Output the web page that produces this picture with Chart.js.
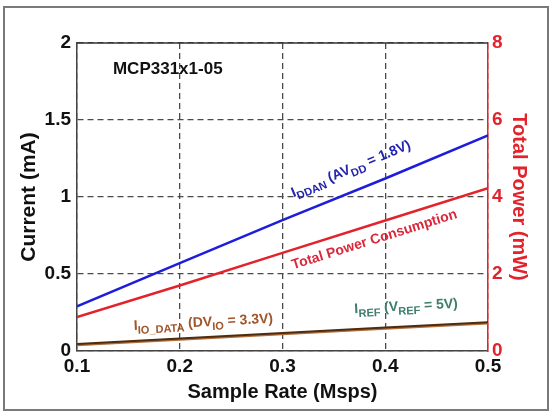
<!DOCTYPE html>
<html>
<head>
<meta charset="utf-8">
<script src="https://cdn.jsdelivr.net/npm/chart.js@4/dist/chart.umd.min.js"></script>
<style>
  html, body { margin: 0; padding: 0; background: #fff; }
  #wrap { width: 551px; height: 415px; position: relative; }
</style>
</head>
<body>
<div id="wrap"><canvas id="c" width="551" height="415"></canvas></div>
<script>
// ---- data ----
const sampleRates = [0.1, 0.2, 0.3, 0.4, 0.5];            // Msps
const iDdan       = [0.29, 0.57, 0.85, 1.12, 1.40];        // mA
const totalPower  = [0.88, 1.70, 2.55, 3.39, 4.23];        // mW
const iRef        = [0.045, 0.081, 0.117, 0.152, 0.187];   // mA
const iIoData     = [0.038, 0.074, 0.110, 0.145, 0.180];   // mA
const leftTicks   = [0, 0.5, 1, 1.5, 2];
const rightTicks  = [0, 2, 4, 6, 8];
const xTicks      = [0.1, 0.2, 0.3, 0.4, 0.5];
const chartNote   = 'MCP331x1-05';

const toXY = (ys) => sampleRates.map((x, i) => ({ x, y: ys[i] }));

const RED = '#e3232b';
const FONT = 'Arial, "Liberation Sans", Helvetica, sans-serif';

// rotated text annotations along lines (anchor expressed in data x)
const lineLabels = [
  { ds: 0, x: 0.317, off: 17, color: '#2222b0', size: 14,
    parts: [['I', 0], ['DDAN', 1], [' (AV', 0], ['DD', 1], [' = 1.8V)', 0]] },
  { ds: 1, x: 0.305, off: -19, color: '#d9283a', size: 14,
    parts: [['Total Power Consumption', 0]] },
  { ds: 3, x: 0.156, off: 12, color: '#a0562a', size: 14,
    parts: [['I', 0], ['IO_DATA', 1], [' (DV', 0], ['IO', 1], [' = 3.3V)', 0]] },
  { ds: 2, x: 0.371, off: 16, color: '#3f7c6c', size: 14,
    parts: [['I', 0], ['REF', 1], [' (V', 0], ['REF', 1], [' = 5V)', 0]] }
];

const decorPlugin = {
  id: 'decor',
  beforeDraw(chart) {
    const ctx = chart.ctx;
    ctx.save();
    ctx.fillStyle = '#fff';
    ctx.fillRect(0, 0, chart.width, chart.height);
    ctx.strokeStyle = '#7a7a7a';
    ctx.lineWidth = 2;
    ctx.strokeRect(4, 7, 544, 403);
    ctx.restore();
  },
  afterDatasetsDraw(chart) {
    const ctx = chart.ctx;
    const a = chart.chartArea;
    ctx.save();
    // solid top frame line
    ctx.strokeStyle = '#333';
    ctx.lineWidth = 1.5;
    ctx.beginPath();
    ctx.moveTo(a.left, a.top);
    ctx.lineTo(a.right, a.top);
    ctx.stroke();

    // note text
    ctx.fillStyle = '#111';
    ctx.font = 'bold 17px ' + FONT;
    ctx.textBaseline = 'middle';
    ctx.textAlign = 'left';
    const xs = chart.scales.x, ys = chart.scales.y;
    ctx.fillText(chartNote, xs.getPixelForValue(0.135), ys.getPixelForValue(1.83));

    // line labels
    lineLabels.forEach(l => {
      const meta = chart.getDatasetMeta(l.ds);
      const ds = chart.data.datasets[l.ds].data;
      const xsc = chart.scales[meta.xAxisID], ysc = chart.scales[meta.yAxisID];
      const p0 = { x: xsc.getPixelForValue(ds[0].x), y: ysc.getPixelForValue(ds[0].y) };
      const p1 = { x: xsc.getPixelForValue(ds[ds.length - 1].x), y: ysc.getPixelForValue(ds[ds.length - 1].y) };
      const ang = Math.atan2(p1.y - p0.y, p1.x - p0.x);
      let v = ds[0].y;
      for (let i = 0; i < ds.length - 1; i++) {
        if (l.x >= ds[i].x && l.x <= ds[i + 1].x) {
          const t = (l.x - ds[i].x) / (ds[i + 1].x - ds[i].x);
          v = ds[i].y + t * (ds[i + 1].y - ds[i].y);
        }
      }
      const px = xsc.getPixelForValue(l.x), py = ysc.getPixelForValue(v);
      ctx.save();
      ctx.translate(px, py);
      ctx.rotate(ang);
      ctx.fillStyle = l.color;
      ctx.textBaseline = 'alphabetic';
      ctx.textAlign = 'left';
      let cx = 0;
      const baseY = -l.off;
      l.parts.forEach(([txt, sub]) => {
        const sz = sub ? Math.round(l.size * 0.75) : l.size;
        ctx.font = 'bold ' + sz + 'px ' + FONT;
        ctx.fillText(txt, cx, baseY + (sub ? 4 : 0));
        cx += ctx.measureText(txt).width;
      });
      ctx.restore();
    });
    ctx.restore();
  }
};

const gridCommon = { color: '#4a4a4a', lineWidth: 1.3, drawTicks: false };

new Chart(document.getElementById('c'), {
  type: 'line',
  data: {
    datasets: [
      { label: 'IDDAN', data: toXY(iDdan), yAxisID: 'y', borderColor: '#1d1ddb', borderWidth: 2.5, pointRadius: 0, tension: 0 },
      { label: 'Total Power', data: toXY(totalPower), yAxisID: 'y2', borderColor: RED, borderWidth: 2.5, pointRadius: 0, tension: 0 },
      { label: 'IREF', data: toXY(iRef), yAxisID: 'y', borderColor: '#4e2c10', borderWidth: 2, pointRadius: 0, tension: 0 },
      { label: 'IIO_DATA', data: toXY(iIoData), yAxisID: 'y', borderColor: '#b06e3a', borderWidth: 2.2, pointRadius: 0, tension: 0 }
    ]
  },
  options: {
    responsive: false,
    animation: false,
    events: [],
    layout: { padding: { top: 43, left: 0, right: 0, bottom: 0 } },
    plugins: { legend: { display: false }, tooltip: { enabled: false } },
    scales: {
      x: {
        type: 'linear', min: 0.1, max: 0.5,
        afterFit: s => { s.height = 64; },
        afterBuildTicks: s => { s.ticks = xTicks.map(v => ({ value: v })); },
        ticks: { color: '#111', font: { family: FONT, size: 19, weight: 'bold' }, padding: 4,
                 callback: v => v.toFixed(1), maxRotation: 0 },
        grid: gridCommon,
        border: { display: true, color: '#444', width: 1.5, dash: [6, 4] },
        title: { display: true, text: 'Sample Rate (Msps)', color: '#111',
                 font: { family: FONT, size: 20, weight: 'bold' }, padding: { top: 0, bottom: 11 } }
      },
      y: {
        type: 'linear', position: 'left', min: 0, max: 2,
        afterFit: s => { s.width = 77; },
        afterBuildTicks: s => { s.ticks = leftTicks.map(v => ({ value: v })); },
        ticks: { color: '#111', font: { family: FONT, size: 19, weight: 'bold' }, padding: 6,
                 callback: v => String(v) },
        grid: gridCommon,
        border: { display: true, color: '#444', width: 1.5, dash: [6, 4] },
        title: { display: true, text: 'Current (mA)', color: '#111',
                 font: { family: FONT, size: 21, weight: 'bold' }, padding: { top: 17, bottom: 0 } }
      },
      y2: {
        type: 'linear', position: 'right', min: 0, max: 8,
        afterFit: s => { s.width = 63; },
        afterBuildTicks: s => { s.ticks = rightTicks.map(v => ({ value: v })); },
        ticks: { color: RED, font: { family: FONT, size: 19, weight: 'bold' }, padding: 4,
                 callback: v => String(v) },
        grid: { display: false, drawTicks: false },
        border: { display: true, color: RED, width: 1.5 },
        title: { display: true, text: 'Total Power (mW)', color: RED,
                 font: { family: FONT, size: 20, weight: 'bold' }, padding: { top: 20, bottom: 0 } }
      }
    }
  },
  plugins: [decorPlugin]
});
</script>
</body>
</html>
